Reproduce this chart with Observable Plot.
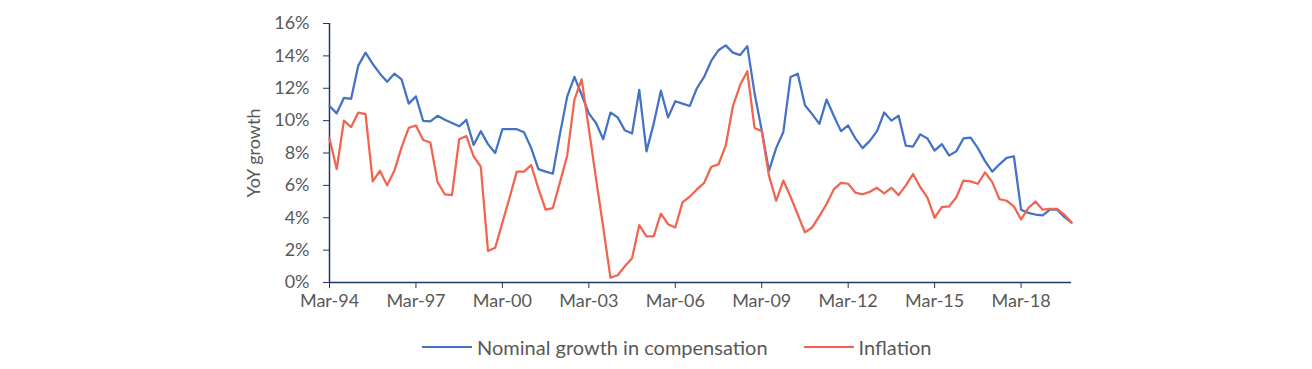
<!DOCTYPE html>
<html><head><meta charset="utf-8">
<script src="https://cdn.jsdelivr.net/npm/d3@7"></script>
<script src="https://cdn.jsdelivr.net/npm/@observablehq/plot@0.6"></script>
<style>
body{margin:0;background:#fff;font-family:Lato,sans-serif;}
#chart{position:relative;width:1312px;height:369px;overflow:hidden;}
#legend{position:absolute;left:422px;top:335px;height:24px;display:flex;align-items:center;color:#595959;font-size:20px;font-family:Lato,sans-serif;white-space:nowrap;}
.sw{display:inline-block;width:50px;height:0;border-top:2.5px solid;margin-right:5px;}
.item{display:flex;align-items:center;}
</style></head><body>
<div id="chart"><div id="legend"></div></div>
<script>
const seriesNames = ["Nominal growth in compensation", "Inflation"];
const seriesColors = ["#4472C4", "#F0654F"];
const monthNames = ["Mar", "Jun", "Sep", "Dec"];
const firstYear = 1994;
const quarterCount = 104;

// YoY growth, % (quarterly, Mar-94 .. Dec-19)
const nominal = [
 10.9, 10.45, 11.4, 11.35, 13.4, 14.2, 13.5, 12.9, 12.4, 12.9, 12.55, 11.05, 11.5, 9.98, 9.95,
 10.3, 10.05, 9.85, 9.65, 10.05, 8.5, 9.35, 8.55, 8.0, 9.47, 9.47, 9.47, 9.28, 8.3, 7.0,
 6.85, 6.72, 9.2, 11.5, 12.7, 11.6, 10.45, 9.85, 8.85, 10.5, 10.2, 9.4, 9.2, 11.9, 8.1,
 9.8, 11.85, 10.2, 11.2, 11.05, 10.9, 12.0, 12.7, 13.7, 14.35, 14.65, 14.2, 14.05, 14.6, 11.7,
 9.4, 6.9, 8.3, 9.3, 12.7, 12.9, 10.95, 10.4, 9.8, 11.3, 10.3, 9.35, 9.7, 8.9, 8.3,
 8.75, 9.35, 10.5, 10.0, 10.3, 8.45, 8.4, 9.15, 8.9, 8.15, 8.55, 7.85, 8.1, 8.9, 8.95,
 8.3, 7.5, 6.85, 7.3, 7.7, 7.8, 4.5, 4.3, 4.2, 4.15, 4.5, 4.5, 4.05, 3.7
];
const inflation = [
 8.9, 7.0, 10.0, 9.6, 10.5, 10.4, 6.25, 6.9, 6.0, 6.9, 8.35, 9.55, 9.7, 8.8, 8.65,
 6.2, 5.45, 5.4, 8.85, 9.05, 7.8, 7.15, 1.95, 2.15, 3.7, 5.25, 6.85, 6.85, 7.25, 5.8,
 4.5, 4.6, 6.2, 7.85, 11.3, 12.55, 9.5, 6.4, 3.4, 0.3, 0.45, 1.0, 1.5, 3.55, 2.85,
 2.85, 4.25, 3.6, 3.4, 4.95, 5.3, 5.75, 6.15, 7.15, 7.3, 8.45, 10.9, 12.2, 13.05, 9.55,
 9.35, 6.6, 5.05, 6.3, 5.3, 4.2, 3.1, 3.4, 4.1, 4.85, 5.75, 6.15, 6.1, 5.55, 5.45,
 5.6, 5.85, 5.5, 5.85, 5.4, 6.0, 6.7, 5.9, 5.25, 4.0, 4.65, 4.7, 5.25, 6.3, 6.25,
 6.1, 6.8, 6.2, 5.15, 5.05, 4.7, 3.9, 4.6, 5.0, 4.5, 4.55, 4.55, 4.2, 3.7
];
const xTickLabels = ["Mar-94","Mar-97","Mar-00","Mar-03","Mar-06","Mar-09","Mar-12","Mar-15","Mar-18"];
const yTicks = [0, 2, 4, 6, 8, 10, 12, 14, 16];
const yLabel = "YoY growth";

const quarters = [];
for (let i = 0; i < quarterCount; i++) {
  const yr = firstYear + Math.floor(i / 4);
  quarters.push(monthNames[i % 4] + "-" + String(yr % 100).padStart(2, "0"));
}
const rows = [];
[nominal, inflation].forEach((arr, s) => arr.forEach((v, i) => rows.push({q: quarters[i], v, s: seriesNames[s]})));

const axisColor = "#1F3864";
const textColor = "#595959";

const chart = Plot.plot({
  width: 1312, height: 318,
  marginLeft: 329, marginRight: 241, marginTop: 23, marginBottom: 36,
  x: {type: "point", domain: quarters, padding: 0, round: false},
  y: {domain: [0, 16]},
  style: {fontFamily: "Lato, sans-serif", fontSize: "18px", color: textColor, background: "white", overflow: "visible"},
  marks: [
    Plot.axisY({ticks: yTicks, tickFormat: d => d + "%", tickSize: 6, tickPadding: 14, stroke: axisColor, fill: textColor, label: null, fontSize: 18}),
    Plot.axisX({ticks: xTickLabels, tickSize: 6, tickPadding: 6, stroke: axisColor, fill: textColor, label: null, fontSize: 18}),
    Plot.ruleY([0], {stroke: axisColor, strokeWidth: 1.5}),
    Plot.ruleX([quarters[0]], {stroke: axisColor, strokeWidth: 1.5}),
    Plot.text([yLabel], {frameAnchor: "left", dx: -75, rotate: -90, textAnchor: "middle", fill: textColor, fontSize: 18}),
    Plot.lineY(rows.filter(d => d.s === seriesNames[0]), {x: "q", y: "v", stroke: seriesColors[0], strokeWidth: 2.25}),
    Plot.lineY(rows.filter(d => d.s === seriesNames[1]), {x: "q", y: "v", stroke: seriesColors[1], strokeWidth: 2.25})
  ]
});
document.getElementById("chart").prepend(chart);

const legend = document.getElementById("legend");
seriesNames.forEach((n, i) => {
  const it = document.createElement("span");
  it.className = "item";
  if (i > 0) it.style.marginLeft = "36px";
  const sw = document.createElement("span");
  sw.className = "sw";
  sw.style.borderTopColor = seriesColors[i];
  const t = document.createElement("span");
  t.textContent = n;
  it.append(sw, t);
  legend.append(it);
});
</script>
</body></html>
